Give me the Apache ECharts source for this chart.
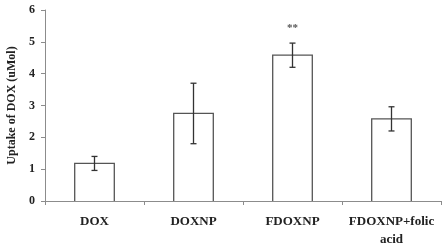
<!DOCTYPE html>
<html>
<head>
<meta charset="utf-8">
<script src="https://cdn.jsdelivr.net/npm/echarts@6/dist/echarts.min.js"></script>
<style>
	html, body { margin: 0; padding: 0; background: #fff; }
	#chartDiv { width: 447px; height: 246px; }
</style>
</head>
<body>
<div id="chartDiv"></div>
<script>
var categories = ['DOX', 'DOXNP', 'FDOXNP', 'FDOXNP+folic\nacid'];
var uptake = [1.18, 2.75, 4.58, 2.58];
var errors = [0.22, 0.95, 0.38, 0.38];
var marks = ['', '', '**', ''];
var yTicks = [0, 1, 2, 3, 4, 5, 6];

var chart = echarts.init(document.getElementById('chartDiv'));

var serif = '"Liberation Serif", "Times New Roman", serif';

var barData = [];
for (var i = 0; i < uptake.length; i++) {
	barData.push([i, uptake[i], uptake[i] - errors[i], uptake[i] + errors[i], marks[i]]);
}

var option = {
	animation: false,
	grid: {
		left: 45,
		right: 6,
		top: 10,
		bottom: 45,
		containLabel: false,
		outerBoundsMode: 'none'
	},
	xAxis: {
		type: 'category',
		data: categories,
		axisLine: { lineStyle: { color: '#8c8c8c', width: 1 } },
		axisTick: { show: true, length: 4, alignWithLabel: false, lineStyle: { color: '#8c8c8c' } },
		axisLabel: {
			interval: 0,
			color: '#222',
			fontFamily: serif,
			fontWeight: 'bold',
			fontSize: 13,
			margin: 12,
			lineHeight: 18
		}
	},
	yAxis: {
		type: 'value',
		min: yTicks[0],
		max: yTicks[yTicks.length - 1],
		interval: 1,
		name: 'Uptake of DOX (uMol)',
		nameLocation: 'middle',
		nameGap: 21,
		nameTextStyle: {
			color: '#222',
			fontFamily: serif,
			fontWeight: 'bold',
			fontSize: 12
		},
		splitLine: { show: false },
		axisLine: { show: true, lineStyle: { color: '#8c8c8c', width: 1 } },
		axisTick: { show: true, inside: false, length: 4, lineStyle: { color: '#8c8c8c' } },
		axisLabel: {
			color: '#222',
			fontFamily: serif,
			fontWeight: 'bold',
			fontSize: 12,
			margin: 10
		}
	},
	series: [
		{
			type: 'custom',
			data: barData,
			renderItem: function (params, api) {
				var x = api.value(0);
				var base = api.coord([x, 0]);
				var top = api.coord([x, api.value(1)]);
				var lo = api.coord([x, api.value(2)]);
				var hi = api.coord([x, api.value(3)]);
				var half = api.size([1, 0])[0] * 0.2;
				var cap = 3;
				var style = { stroke: '#333', lineWidth: 1.3 };
				var children = [
					{
						type: 'polyline',
						shape: { points: [[top[0] - half, base[1]], [top[0] - half, top[1]], [top[0] + half, top[1]], [top[0] + half, base[1]]] },
						style: { stroke: '#555', lineWidth: 1.3, fill: null }
					},
					{ type: 'line', shape: { x1: lo[0], y1: lo[1], x2: hi[0], y2: hi[1] }, style: style },
					{ type: 'line', shape: { x1: lo[0] - cap, y1: lo[1], x2: lo[0] + cap, y2: lo[1] }, style: style },
					{ type: 'line', shape: { x1: hi[0] - cap, y1: hi[1], x2: hi[0] + cap, y2: hi[1] }, style: style }
				];
				var m = api.value(4);
				if (m) {
					children.push({
						type: 'text',
						style: {
							text: m,
							x: hi[0],
							y: hi[1] - 15,
							textAlign: 'center',
							textVerticalAlign: 'middle',
							fill: '#555',
							font: 'bold 11px ' + serif
						}
					});
				}
				return { type: 'group', children: children };
			}
		}
	]
};

chart.setOption(option, true);
</script>
</body>
</html>
